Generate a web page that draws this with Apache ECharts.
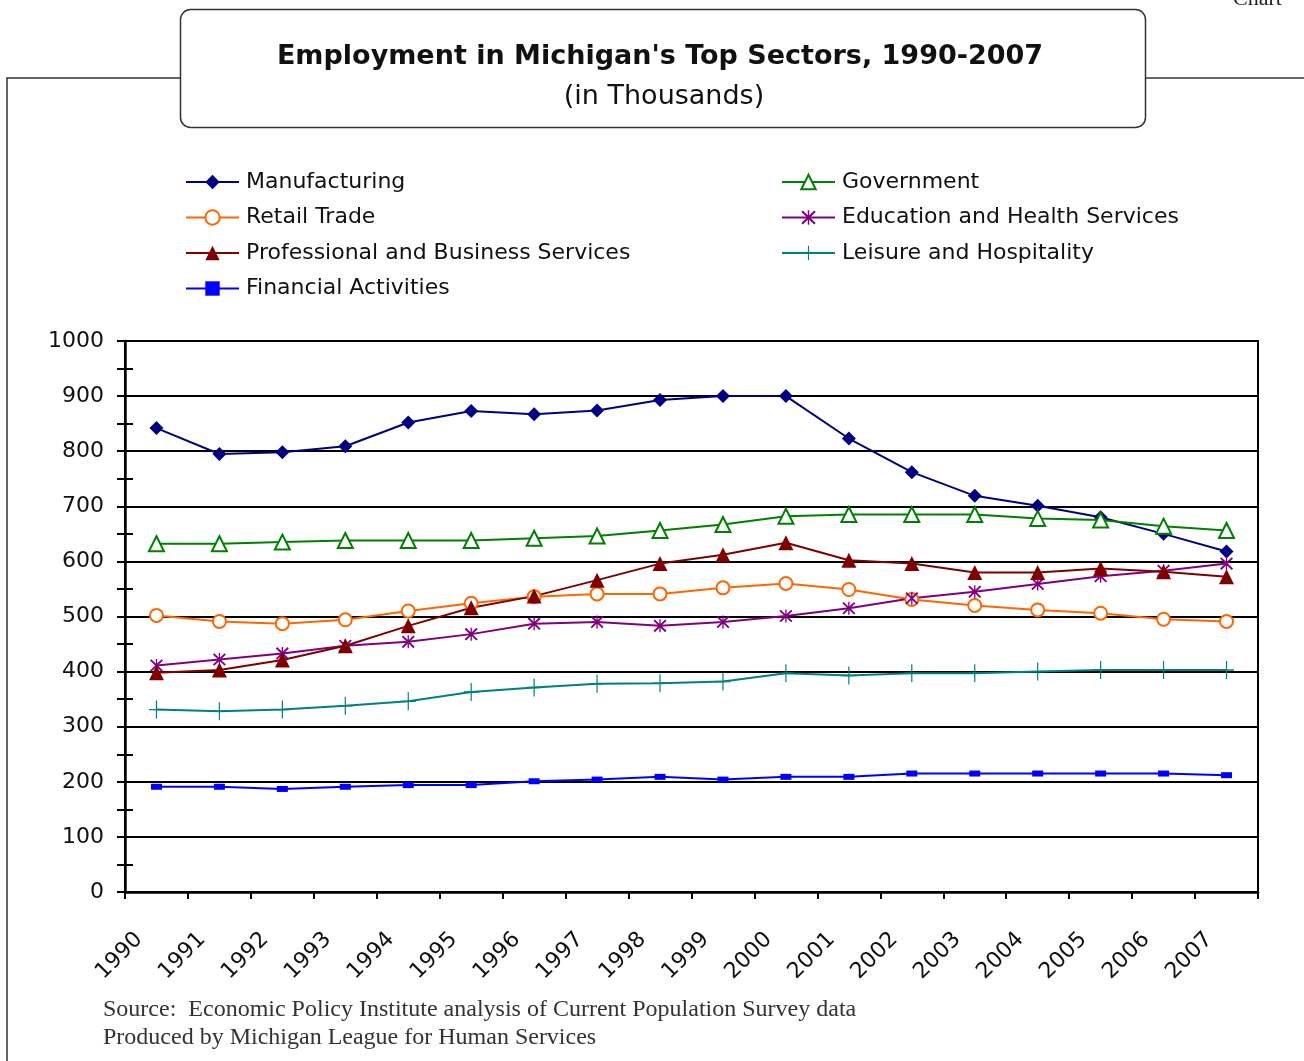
<!DOCTYPE html>
<html>
<head>
<meta charset="utf-8">
<title>Employment in Michigan's Top Sectors</title>
<script src="https://cdn.jsdelivr.net/npm/echarts@6/dist/echarts.min.js"></script>
<style>
  html, body { margin: 0; padding: 0; background: #fff; }
  #chart { width: 1304px; height: 1061px; }
</style>
</head>
<body>
<div id="chart"></div>
<script>
// years and employment values (thousands)
const years = [1990, 1991, 1992, 1993, 1994, 1995, 1996, 1997, 1998, 1999, 2000, 2001, 2002, 2003, 2004, 2005, 2006, 2007];

const manufacturing = [842, 795, 798, 809, 852, 873, 867, 874, 893, 900, 900, 823, 762, 719, 701, 680, 650, 618];
const government    = [632, 632, 635, 638, 638, 638, 642, 646, 656, 667, 682, 685, 685, 685, 678, 675, 664, 656];
const retailTrade   = [502, 491, 487, 494, 510, 524, 536, 541, 541, 552, 560, 549, 531, 520, 512, 506, 495, 491];
const education     = [411, 422, 433, 447, 454, 468, 487, 490, 483, 490, 501, 515, 533, 545, 559, 573, 583, 596];
const professional  = [398, 403, 421, 447, 483, 516, 537, 566, 596, 612, 634, 602, 596, 580, 580, 587, 581, 572];
const leisure       = [331, 328, 331, 338, 346, 363, 371, 378, 379, 382, 397, 393, 397, 397, 400, 403, 403, 403];
const financial     = [191, 191, 187, 191, 194, 194, 201, 204, 209, 204, 209, 209, 215, 215, 215, 215, 215, 212];

const yTicks = [0, 100, 200, 300, 400, 500, 600, 700, 800, 900, 1000];

var chart = echarts.init(document.getElementById('chart'));

const font = '"DejaVu Sans", sans-serif';

// asterisk and plus markers
const starPath = 'path://M9 0H11V20H9Z M0.3 2.3L2.3 0.3L19.7 17.7L17.7 19.7Z M17.7 0.3L19.7 2.3L2.3 19.7L0.3 17.7Z';
const plusPath = 'path://M9.2 0H10.8V20H9.2Z M0 9.2H20V10.8H0Z';

// points sit in the middle of each year band
function pairs(vals) {
    return vals.map((v, i) => [years[i] + 0.5, v]);
}

function makeSeries(name, vals, color, symbol, size, filled) {
    return {
        name: name,
        type: 'line',
        data: pairs(vals),
        symbol: symbol,
        symbolSize: size,
        showSymbol: true,
        lineStyle: { color: color, width: 2 },
        itemStyle: {
            color: filled ? color : '#fff',
            borderColor: color,
            borderWidth: filled ? 0 : 2
        },
        emphasis: { disabled: true },
        animation: false
    };
}

const legendStyle = {
    orient: 'vertical', itemGap: 13.5, padding: 0,
    itemWidth: 53, itemHeight: 18,
    textStyle: { fontFamily: font, fontSize: 22, color: '#111', padding: [0, 0, 0, 2] }
};

var option = {
    animation: false,
    graphic: [
        // outer frame
        { type: 'polyline', shape: { points: [[7, 1061], [7, 78], [180, 78]] }, style: { stroke: '#333', lineWidth: 1.5, fill: null } },
        { type: 'line', shape: { x1: 1145, y1: 78, x2: 1304, y2: 78 }, style: { stroke: '#333', lineWidth: 1.5 } },
        // title box
        { type: 'rect', shape: { x: 180.5, y: 9.5, width: 965, height: 118, r: 10 }, style: { fill: '#fff', stroke: '#333', lineWidth: 1.5 } },
        { type: 'text', x: 660, y: 57, style: { text: "Employment in Michigan's Top Sectors, 1990-2007", font: 'bold 27px ' + font, fill: '#111', align: 'center', verticalAlign: 'middle' } },
        { type: 'text', x: 664, y: 97, style: { text: '(in Thousands)', font: '27px ' + font, fill: '#111', align: 'center', verticalAlign: 'middle' } },
        { type: 'text', x: 1233, y: -12, style: { text: 'Chart', font: '22px "Liberation Serif", serif', fill: '#222' } },
        // source lines
        { type: 'text', x: 103, y: 1010, style: { text: 'Source:  Economic Policy Institute analysis of Current Population Survey data', font: '24px "Liberation Serif", serif', fill: '#333', verticalAlign: 'middle' } },
        { type: 'text', x: 103, y: 1038, style: { text: 'Produced by Michigan League for Human Services', font: '24px "Liberation Serif", serif', fill: '#333', verticalAlign: 'middle' } }
    ],
    legend: [
        Object.assign({
            left: 185, top: 171,
            data: ['Manufacturing', 'Retail Trade', 'Professional and Business Services', 'Financial Activities']
        }, legendStyle),
        Object.assign({
            left: 781, top: 171,
            data: ['Government', 'Education and Health Services', 'Leisure and Hospitality']
        }, legendStyle)
    ],
    grid: {
        left: 125, right: 46, top: 341, bottom: 169,
        show: true, borderColor: '#000', borderWidth: 2, backgroundColor: 'transparent'
    },
    xAxis: {
        type: 'value',
        min: 1990, max: 2008, interval: 1,
        axisLine: { show: true, onZero: false, lineStyle: { color: '#000', width: 2.5 } },
        axisTick: { show: true, length: 7, lineStyle: { color: '#000', width: 2 } },
        splitLine: { show: false },
        axisLabel: {
            rotate: 45, margin: 30,
            verticalAlign: 'top', lineHeight: 40,
            fontFamily: font, fontSize: 22, color: '#111',
            formatter: v => (v >= 1990 && v <= 2007 ? String(v) : '')
        }
    },
    yAxis: [
        {
            type: 'value', min: yTicks[0], max: yTicks[yTicks.length - 1], interval: 100,
            axisLine: { show: true, lineStyle: { color: '#000', width: 2.5 } },
            axisTick: { show: true, length: 8, lineStyle: { color: '#000', width: 2 } },
            minorTick: { show: true, splitNumber: 2, length: 8, lineStyle: { color: '#000', width: 2 } },
            splitLine: { show: true, lineStyle: { color: '#000', width: 2 } },
            axisLabel: { margin: 21, fontFamily: font, fontSize: 22, color: '#111', formatter: v => String(v) }
        },
        {
            type: 'value', position: 'left', offset: 0,
            min: yTicks[0], max: yTicks[yTicks.length - 1], interval: 100,
            axisLine: { show: false },
            axisTick: { show: true, inside: true, length: 8, lineStyle: { color: '#000', width: 2 } },
            minorTick: { show: true, splitNumber: 2, length: 8, lineStyle: { color: '#000', width: 2 } },
            splitLine: { show: false },
            axisLabel: { show: false }
        }
    ],
    series: [
        makeSeries('Manufacturing', manufacturing, '#000080', 'diamond', 14, true),
        makeSeries('Government', government, '#008000', 'triangle', 15, false),
        makeSeries('Retail Trade', retailTrade, '#FF6600', 'circle', 13, false),
        makeSeries('Education and Health Services', education, '#800080', starPath, 13, true),
        makeSeries('Professional and Business Services', professional, '#800000', 'triangle', 15, true),
        makeSeries('Leisure and Hospitality', leisure, '#008080', plusPath, [15, 18], true),
        makeSeries('Financial Activities', financial, '#0000FF', 'rect', [11, 6], true)
    ]
};

if (option && typeof option === 'object') {
    chart.setOption(option);
}

window.addEventListener('resize', chart.resize);
</script>
</body>
</html>
